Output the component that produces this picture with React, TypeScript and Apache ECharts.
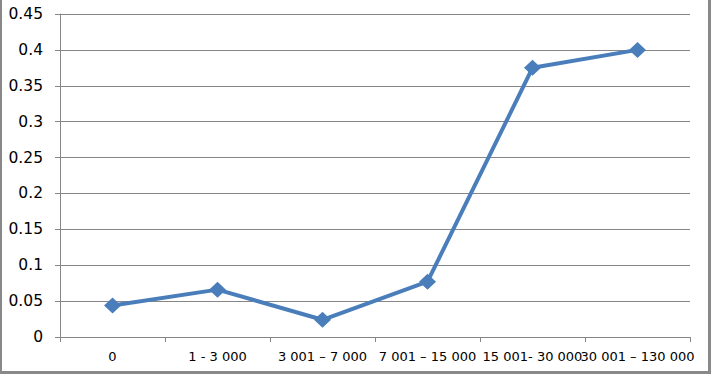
import React, { useEffect, useRef } from "react";
import * as echarts from "echarts";

const categories = ["0", "1 - 3 000", "3 001 – 7 000", "7 001 – 15 000", "15 001- 30 000", "30 001 – 130 000"];
const values = [0.044, 0.066, 0.024, 0.077, 0.375, 0.4];
const yMin = 0;
const yMax = 0.45;
const yInterval = 0.05;

export default function App() {
  const ref = useRef<HTMLDivElement>(null);
  useEffect(() => {
    if (!ref.current) return;
    const chart = echarts.init(ref.current, null, { renderer: "svg" });
    chart.setOption({
      animation: false,
      backgroundColor: "#ffffff",
      grid: { left: 60, right: 21, top: 14, bottom: 37 },
      xAxis: {
        type: "category",
        data: categories,
        boundaryGap: true,
        axisLine: { lineStyle: { color: "#868686", width: 1 } },
        axisTick: { show: true, length: 5, lineStyle: { color: "#868686" }, alignWithLabel: false },
        axisLabel: {
          interval: 0,
          margin: 13,
          color: "#000",
          fontFamily: "DejaVu Sans",
          fontSize: 13,
          hideOverlap: false,
        },
        splitLine: { show: false },
      },
      yAxis: {
        type: "value",
        min: yMin,
        max: yMax,
        interval: yInterval,
        axisLine: { show: true, lineStyle: { color: "#868686", width: 1 } },
        axisTick: { show: true, length: 5, lineStyle: { color: "#868686" } },
        axisLabel: {
          margin: 17,
          color: "#000",
          fontFamily: "DejaVu Sans",
          fontSize: 15.5,
          formatter: (v: number) => String(parseFloat(v.toFixed(2))),
        },
        splitLine: { show: true, lineStyle: { color: "#868686", width: 1 } },
      },
      series: [
        {
          type: "line",
          data: values,
          symbol: "diamond",
          symbolSize: [17, 16],
          lineStyle: { color: "#4A7EBB", width: 4 },
          itemStyle: { color: "#4A7EBB" },
        },
      ],
    });
    return () => chart.dispose();
  }, []);
  return (
    <div style={{ position: "fixed", left: 0, top: 0, width: 711, height: 374, background: "#fff" }}>
      <div ref={ref} style={{ width: 711, height: 374 }} />
      <div style={{ position: "absolute", left: 0, top: 0, width: 2, height: 374, background: "#898989" }} />
      <div style={{ position: "absolute", right: 0, top: 0, width: 3, height: 374, background: "#898989" }} />
      <div style={{ position: "absolute", left: 0, bottom: 0, width: 711, height: 3, background: "#898989" }} />
    </div>
  );
}
